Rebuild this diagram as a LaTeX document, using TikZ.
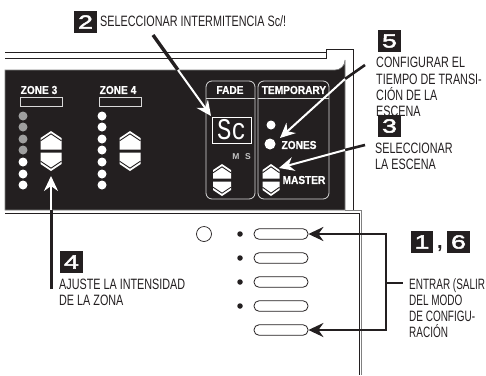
\documentclass[tikz,border=0pt]{standalone}
\usepackage{fontspec}
\setmainfont{Liberation Sans}
\newfontfamily\condf[FakeStretch=0.72]{Liberation Sans}
\newfontfamily\condg[FakeStretch=0.665]{Liberation Sans}
\newfontfamily\badgef[FakeStretch=1.4,FakeBold=2.6]{Liberation Sans}
\newfontfamily\dispf[FakeStretch=0.8]{Liberation Mono}
\newfontfamily\panelf[FakeBold=0.7,FakeStretch=0.88]{Liberation Sans}
\usetikzlibrary{arrows.meta}
\definecolor{panel}{HTML}{231F20}
\tikzset{
  captext/.style={font=\condf\fontsize{15}{16}\selectfont,text=panel,anchor=west,inner sep=0pt,align=left},
  badge/.style={fill=panel,text=white,minimum width=22.5pt,minimum height=22pt,inner sep=0pt,font=\badgef\fontsize{19}{19}\selectfont},
  paneltext/.style={text=white,inner sep=0pt,font=\panelf\bfseries\fontsize{11.5}{11.5}\selectfont},
  led/.style={circle,fill=white,inner sep=0pt,minimum size=9pt},
  dimled/.style={circle,fill=gray!75,inner sep=0pt,minimum size=9pt},
  softbtn/.style={draw=panel,line width=0.8pt,rounded corners=5pt,minimum width=54pt,minimum height=10.5pt,inner sep=0pt},
  dotm/.style={circle,fill=panel,inner sep=0pt,minimum size=5.5pt},
  blackline/.style={draw=panel,line width=2.6pt},
  whitearrow/.style={draw=white,line width=2pt,-{Stealth[length=15pt,width=14pt,inset=5pt]}},
  blackarrow/.style={draw=panel,line width=2.6pt,-{Stealth[length=15pt,width=14pt,inset=5pt]}},
  frameline/.style={draw=panel,line width=0.9pt},
  boxline/.style={draw=white!85!black,line width=0.8pt},
}
\newcommand{\updown}[5]{% cx cy w h shoulder
  \begin{scope}[shift={(#1,#2)}]
    \foreach \sgn in {1,-1}{
      \begin{scope}[yscale=\sgn]
        \fill[white] (-#3,1.5)--(-#3,#4-#5)--(0,#4)--(#3,#4-#5)--(#3,1.5)--cycle;
        \draw[panel,line width=0.9pt] (-#3,#4-#5-2.8)--(0,#4-2.8)--(#3,#4-#5-2.8);
      \end{scope}
    }
  \end{scope}
}
\begin{document}
\begin{tikzpicture}[x=1pt,y=-1pt]
\useasboundingbox (0,0) rectangle (486,375);
% enclosure lines
\draw[frameline] (5,52)--(326,52);
\draw[frameline] (5,58)--(326,58)--(326,49.5)--(353,49.5)--(353,210);
\draw[draw=gray,line width=0.8pt] (345,210)--(361.5,210)--(361.5,375);
\draw[draw=panel,line width=0.8pt] (5,213.5)--(359,213.5)--(359,375);
% panel
\fill[panel,draw=gray,line width=0.6pt] (5,70)--(335,70) arc[start angle=-90,end angle=0,radius=10pt] -- (345,210)--(5,210)--cycle;
% zone 3 and 4
\node[paneltext] (z3) at (39,90) {ZONE 3};
\node[paneltext] (z4) at (118,90) {ZONE 4};
\node[boxline,draw,minimum width=42pt,minimum height=9pt,inner sep=0pt] (z3box) at (41,101.5) {};
\node[boxline,draw,minimum width=42pt,minimum height=9pt,inner sep=0pt] (z4box) at (120,101.5) {};
\foreach \i/\y in {1/116,2/127,3/139,4/150}{\node[dimled] (a\i) at (23,\y) {};}
\foreach \i/\y in {5/162,6/174,7/185}{\node[led] (a\i) at (23,\y) {};}
\foreach \i/\y in {1/116,2/127,3/139,4/150,5/162,6/174,7/185}{\node[led] (c\i) at (102,\y) {};}
\updown{51}{151}{10.5}{20}{7}
\updown{130}{151}{10.5}{20}{7}
% fade box
\draw[boxline,rounded corners=6pt] (206,199)--(206,81)--(255,81)--(255,199)--cycle;
\draw[boxline] (206,98)--(255,98);
\node[paneltext] (fade) at (230,90) {FADE};
\node[draw=white,line width=0.8pt,minimum width=39pt,minimum height=26pt,inner sep=0pt,text=white,font=\dispf\fontsize{30}{30}\selectfont] (disp) at (231.5,130) {Sc};
\node[text=gray!45,inner sep=0pt,font=\bfseries\fontsize{8.5}{9}\selectfont] (m) at (236,157) {M};
\node[text=gray!45,inner sep=0pt,font=\bfseries\fontsize{8.5}{9}\selectfont] (s) at (248,157) {S};
\updown{222}{180}{9}{16}{6}
% temporary box
\draw[boxline,rounded corners=6pt] (258,199)--(258,81)--(329,81)--(329,199)--cycle;
\draw[boxline] (258,98)--(329,98);
\node[paneltext] (temp) at (294,90) {TEMPORARY};
\node[led,minimum size=9pt] (l1) at (271,125) {};
\node[led,minimum size=11pt] (l2) at (270,144) {};
\node[paneltext] (zones) at (299,145) {ZONES};
\node[paneltext] (master) at (304,180) {MASTER};
\updown{271}{180}{8.5}{16}{6}
% lower panel
\node[draw=panel,circle,line width=0.7pt,minimum size=15pt,inner sep=0pt] (ring) at (204,234) {};
\foreach \i/\y in {1/234,2/258,3/282,4/306}{\node[dotm] (d\i) at (240,\y) {};}
\foreach \i/\y in {1/234,2/258,3/282,4/306,5/330}{\node[softbtn] (b\i) at (281,\y) {};}
% badges and captions
\node[captext,anchor=north west] (t5) at (376,57) {CONFIGURAR EL\\[0.4pt]TIEMPO DE TRANSI-\\[0.4pt]CIÓN DE LA\\[0.4pt]ESCENA};
\node[badge] (n2) at (85.5,22) {2};
\node[captext] (t2) at (100,21) {SELECCIONAR INTERMITENCIA Sc/!};
\node[badge] (n5) at (389.5,41) {5};
\node[badge] (n3) at (389.5,126) {3};
\node[captext,anchor=north west] (t3) at (375,143) {SELECCIONAR\\LA ESCENA};
\node[badge] (n4) at (71.5,262) {4};
\node[captext,anchor=north west] (t4) at (59,279) {AJUSTE LA INTENSIDAD\\DE LA ZONA};
\node[badge] (n1) at (422,242) {1};
\node[inner sep=0pt,text=panel,font=\bfseries\fontsize{20}{20}\selectfont] (comma) at (440,249) {,};
\node[badge] (n6) at (458.5,242) {6};
\node[captext,font=\condg\fontsize{15}{16}\selectfont,anchor=north west] (t1) at (409,278) {ENTRAR (SALIR\\DEL MODO\\DE CONFIGU-\\RACIÓN};
% connectors
\coordinate (s2) at (153,35); \coordinate (j2) at (178,70); \coordinate (e2) at (211,116);
\coordinate (s4) at (51,289); \coordinate (j4) at (51,210); \coordinate (e4) at (51,176);
\coordinate (s5) at (365,65); \coordinate (j5) at (345,79); \coordinate (e5) at (280,138);
\coordinate (s3) at (365,145); \coordinate (j3) at (345,150); \coordinate (e3) at (279,168);
\coordinate (jr) at (386,283); \coordinate (sr) at (403,283);
\draw[blackline,line width=3.4pt] (s2)--(j2);
\draw[whitearrow] (j2)--(e2);
\draw[blackline,line width=3pt] (s4)--(j4);
\draw[whitearrow] (j4)--(e4);
\draw[blackline] (s5)--(j5);
\draw[whitearrow] (j5)--(e5);
\draw[blackline] (s3)--(j3);
\draw[whitearrow] (j3)--(e3);
\draw[blackarrow] (jr)|-(b1.east);
\draw[blackarrow] (jr)|-(b5.east);
\draw[blackline] (jr)--(sr);
\end{tikzpicture}
\end{document}
